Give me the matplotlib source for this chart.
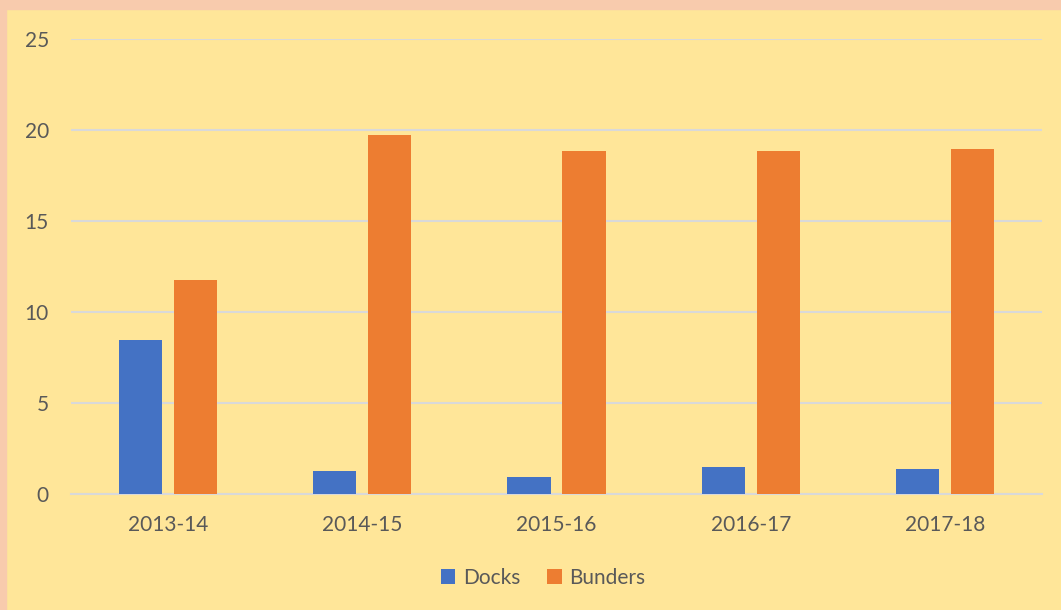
import numpy as np
import matplotlib.pyplot as plt
from matplotlib.patches import Rectangle

years = ["2013-14", "2014-15", "2015-16", "2016-17", "2017-18"]
docks = [8.45, 1.25, 0.93, 1.48, 1.37]
bunders = [11.75, 19.72, 18.85, 18.82, 18.96]

bg = "#FFE699"
text_col = "#595959"

plt.rcParams['font.family'] = ['Lato', 'DejaVu Sans']

fig = plt.figure(figsize=(10.61, 6.10), dpi=100, facecolor=bg)
ax = fig.add_axes([71 / 1061, 116 / 610, 971 / 1061, 455 / 610])
ax.set_facecolor(bg)

x = np.arange(len(years))
w = 0.222
off = 0.1416
ax.bar(x - off, docks, w, color="#4472C4", label="Docks", zorder=3)
ax.bar(x + off, bunders, w, color="#ED7D31", label="Bunders", zorder=3)

ax.set_xlim(-0.5, len(years) - 0.5)
ax.set_ylim(0, 25)
ax.set_yticks(range(0, 26, 5))
ax.set_xticks(x)
ax.set_xticklabels(years)
ax.grid(axis="y", color="#D9D9D9", linewidth=1.5, zorder=0)
for s in ["top", "right", "left"]:
    ax.spines[s].set_visible(False)
ax.spines["bottom"].set_color("#D9D9D9")
ax.spines["bottom"].set_linewidth(1.5)
ax.tick_params(axis="both", length=0, labelsize=15, colors=text_col)
ax.tick_params(axis="y", pad=16)
ax.tick_params(axis="x", pad=15)

leg = fig.legend(loc="center", bbox_to_anchor=(543 / 1061, 1 - 578 / 610), ncol=2,
                 frameon=False, fontsize=15, handlelength=0.7, handleheight=0.7,
                 handletextpad=0.35, columnspacing=1.3)
for t in leg.get_texts():
    t.set_color(text_col)

# peach frame on top and left edges
fig.patches.append(Rectangle((0, 1 - 9 / 610), 1, 9 / 610, transform=fig.transFigure,
                             color="#F8CBAD", zorder=5))
fig.patches.append(Rectangle((0, 0), 6 / 1061, 1, transform=fig.transFigure,
                             color="#F8CBAD", zorder=5))

fig.savefig("out.png", dpi=100, facecolor=bg)
